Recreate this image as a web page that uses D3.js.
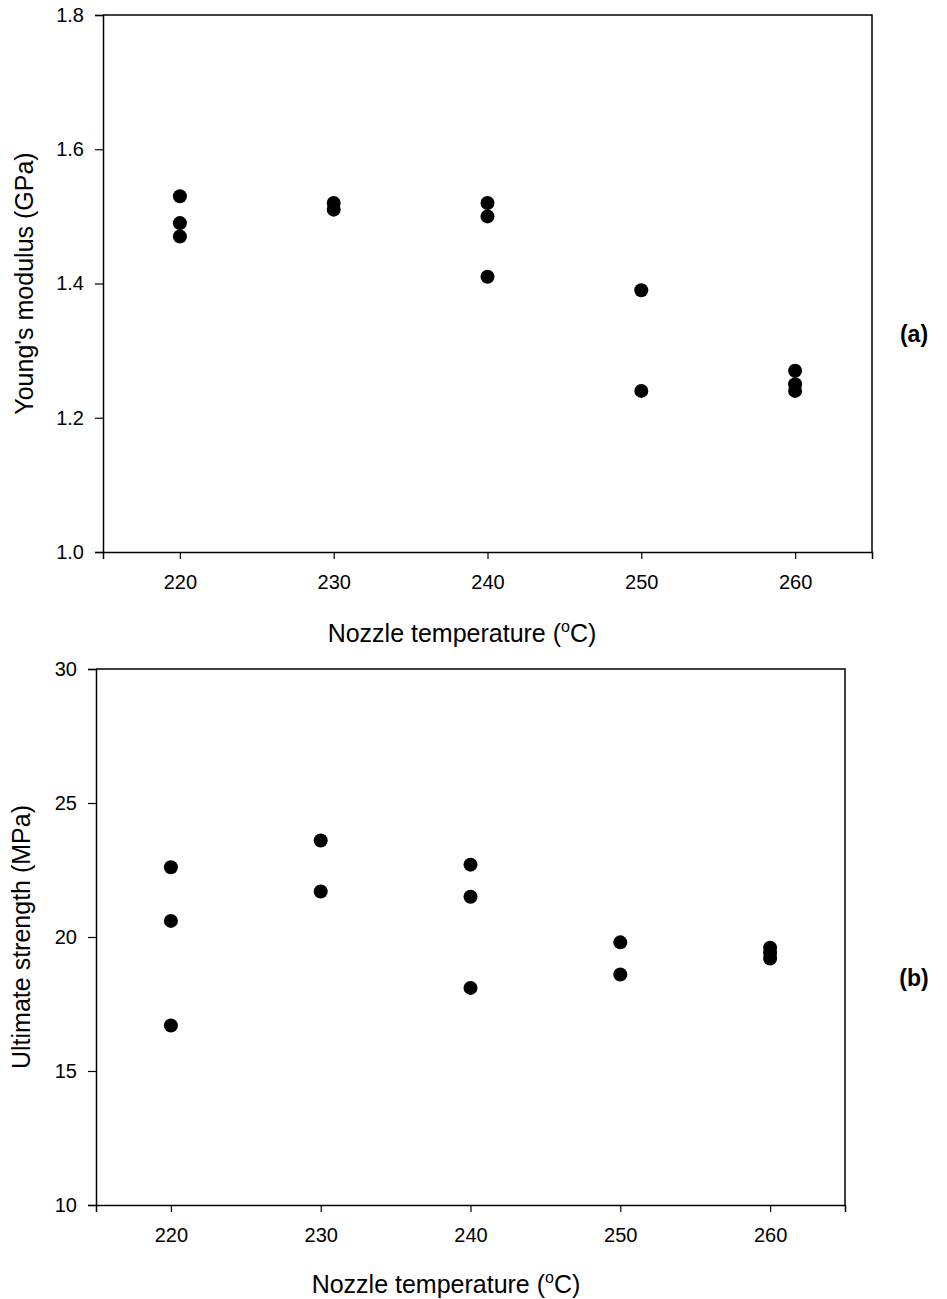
<!DOCTYPE html>
<html>
<head>
<meta charset="utf-8">
<script src="https://cdn.jsdelivr.net/npm/d3@7"></script>
<style>
  body { margin: 0; background: #fff; }
  svg text { font-family: "Liberation Sans", Arial, sans-serif; fill: #000; }
</style>
</head>
<body>
<div id="chart"></div>
<script>
// ---------- data ----------
const temps = [220, 230, 240, 250, 260];

// (a) Young's modulus (GPa)
const modulusTemp = [220, 220, 220, 230, 230, 240, 240, 240, 250, 250, 260, 260, 260];
const modulusVal  = [1.53, 1.49, 1.47, 1.52, 1.51, 1.52, 1.50, 1.41, 1.39, 1.24, 1.27, 1.25, 1.24];
const modulusTicks = [1.0, 1.2, 1.4, 1.6, 1.8];

// (b) Ultimate strength (MPa)
const strengthTemp = [220, 220, 220, 230, 230, 240, 240, 240, 250, 250, 260, 260, 260];
const strengthVal  = [22.6, 20.6, 16.7, 23.6, 21.7, 22.7, 21.5, 18.1, 19.8, 18.6, 19.6, 19.4, 19.2];
const strengthTicks = [10, 15, 20, 25, 30];

// ---------- svg ----------
const width = 947, height = 1299;
const svg = d3.select("#chart").append("svg")
  .attr("width", width)
  .attr("height", height);

function panel(opt) {
  const x = d3.scaleLinear().domain([215, 265]).range([opt.left, opt.right]);
  const y = d3.scaleLinear().domain(opt.yDomain).range([opt.bottom, opt.top]);
  const g = svg.append("g");

  // frame (top + right)
  g.append("path")
    .attr("d", `M${opt.left},${opt.top}H${opt.right}V${opt.bottom}`)
    .attr("fill", "none").attr("stroke", "#000").attr("stroke-width", 1.5);

  const xAxis = d3.axisBottom(x).tickValues(temps).tickSize(7).tickPadding(16).tickFormat(d3.format("d"));
  const yAxis = d3.axisLeft(y).tickValues(opt.ticks).tickSize(8).tickPadding(11).tickFormat(opt.fmt);

  const gx = g.append("g").attr("transform", `translate(0,${opt.bottom})`).call(xAxis);
  const gy = g.append("g").attr("transform", `translate(${opt.left},0)`).call(yAxis);
  [gx, gy].forEach(a => {
    a.select(".domain").attr("stroke-width", 1.5);
    a.selectAll(".tick line").attr("stroke-width", 1.2);
    a.selectAll("text").attr("font-size", 20).attr("font-family", "Liberation Sans, Arial, sans-serif");
  });

  // dots
  g.selectAll("circle")
    .data(opt.xs.map((t, i) => ({ t: t, v: opt.vs[i] })))
    .join("circle")
    .attr("cx", d => x(d.t))
    .attr("cy", d => y(d.v))
    .attr("r", 7)
    .attr("fill", "#000");

  // y title
  g.append("text")
    .attr("transform", `translate(${opt.yTitleX},${(opt.top + opt.bottom) / 2}) rotate(-90)`)
    .attr("text-anchor", "middle")
    .attr("font-size", 25)
    .text(opt.yLabel);

  // x title with superscript
  const xt = g.append("text")
    .attr("x", opt.xTitleX)
    .attr("y", opt.bottom + opt.xTitleDy)
    .attr("text-anchor", "middle")
    .attr("font-size", 25);
  xt.append("tspan").text("Nozzle temperature (");
  xt.append("tspan").attr("dy", -10).attr("font-size", 16).text("o");
  xt.append("tspan").attr("dy", 10).text("C)");

  // panel tag
  svg.append("text")
    .attr("x", 914)
    .attr("y", opt.tagY)
    .attr("text-anchor", "middle")
    .attr("font-family", "Liberation Serif, Times New Roman, serif")
    .attr("font-weight", "bold")
    .attr("font-size", 23)
    .text(opt.tag);
}

panel({
  left: 103, right: 872, top: 15, bottom: 552,
  yDomain: [1.0, 1.8], ticks: modulusTicks, fmt: d3.format(".1f"),
  xs: modulusTemp, vs: modulusVal,
  yLabel: "Young's modulus (GPa)", yTitleX: 33,
  xTitleX: 462, xTitleDy: 90,
  tag: "(a)", tagY: 342
});

panel({
  left: 96, right: 845, top: 669, bottom: 1205,
  yDomain: [10, 30], ticks: strengthTicks, fmt: d3.format("d"),
  xs: strengthTemp, vs: strengthVal,
  yLabel: "Ultimate strength (MPa)", yTitleX: 30,
  xTitleX: 446, xTitleDy: 88,
  tag: "(b)", tagY: 986
});
</script>
</body>
</html>
